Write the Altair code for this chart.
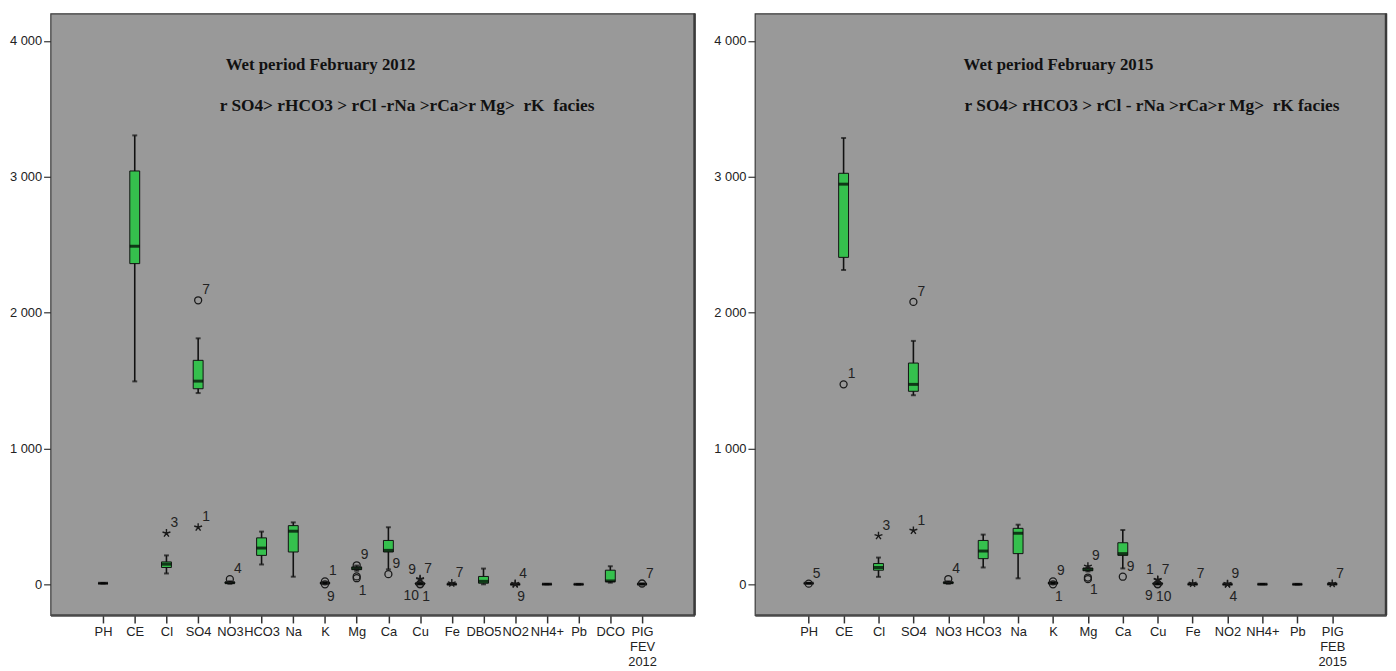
import json
import altair as alt
import pandas as pd

# ---------------- 2012 (left panel) ----------------
cats_2012 = ["PH", "CE", "Cl", "SO4", "NO3", "HCO3", "Na", "K", "Mg", "Ca",
             "Cu", "Fe", "DBO5", "NO2", "NH4+", "Pb", "DCO", "PIG|FEV|2012"]
lo_2012 = [7.0, 1494, 80, 1408, 4, 146, 56, 4, 100, 110, 0, 0, 0, 0, 0, 0, 12, 0]
q1_2012 = [7.3, 2361, 124, 1440, 8, 213, 238, 7, 108, 238, 2, 0.5, 8, 0.1, 0.5, 0.02, 19, 1]
med_2012 = [7.6, 2489, 148, 1496, 12, 267, 391, 9, 118, 250, 4, 1, 22, 0.3, 1, 0.05, 25, 2]
q3_2012 = [7.9, 3043, 165, 1649, 16, 342, 432, 12, 128, 323, 8, 2, 58, 0.6, 1.5, 0.08, 104, 3]
hi_2012 = [8.2, 3305, 213, 1811, 22, 388, 456, 15, 138, 420, 12, 3, 116, 1, 2, 0.1, 133, 5]

out_cat_2012 = ["Cl", "SO4", "SO4", "NO3", "K", "K", "Mg", "Mg", "Mg", "Ca",
                "Cu", "Cu", "Cu", "Cu", "Fe", "NO2", "NO2", "PIG|FEV|2012"]
out_val_2012 = [376, 2091, 420, 38, 22, 0, 140, 58, 45, 75,
                40, 35, 0, 3, 8, 5, 0, 6]
out_shape_2012 = ["star", "circle", "star", "circle", "circle", "circle", "circle", "circle", "circle", "circle",
                  "star", "star", "circle", "circle", "star", "star", "star", "circle"]
out_label_2012 = ["3", "7", "1", "4", "1", "9", "9", "", "1", "9",
                  "7", "9", "1", "10", "7", "4", "9", "7"]
out_pos_2012 = ["ne", "ne", "ne", "ne", "ne", "se", "ne", "ne", "se", "ne",
                "ne", "nw", "se", "sw", "ne", "ne", "se", "ne"]

# ---------------- 2015 (right panel) ----------------
cats_2015 = ["PH", "CE", "Cl", "SO4", "NO3", "HCO3", "Na", "K", "Mg", "Ca",
             "Cu", "Fe", "NO2", "NH4+", "Pb", "PIG|FEB|2015"]
lo_2015 = [7.0, 2314, 55, 1392, 4, 124, 44, 4, 95, 117, 0, 0, 0, 0, 0, 0]
q1_2015 = [7.3, 2407, 104, 1421, 8, 189, 226, 7, 100, 213, 2, 0.5, 0.1, 0.5, 0.02, 1]
med_2015 = [7.6, 2946, 124, 1472, 12, 245, 376, 9, 110, 226, 4, 1, 0.3, 1, 0.05, 2]
q3_2015 = [7.9, 3026, 153, 1629, 16, 323, 412, 12, 120, 306, 8, 2, 0.6, 1.5, 0.08, 3]
hi_2015 = [8.2, 3286, 197, 1792, 22, 366, 439, 15, 125, 400, 12, 3, 1, 2, 0.1, 5]

out_cat_2015 = ["PH", "CE", "Cl", "SO4", "SO4", "NO3", "K", "K", "Mg", "Mg", "Mg", "Ca",
                "Cu", "Cu", "Cu", "Cu", "Fe", "NO2", "NO2", "PIG|FEB|2015"]
out_val_2015 = [5, 1472, 357, 2079, 396, 39, 22, 0, 132, 50, 38, 56,
                31, 34, 0, 3, 6, 4, 0, 5]
out_shape_2015 = ["circle", "circle", "star", "circle", "star", "circle", "circle", "circle", "star", "circle", "circle", "circle",
                  "star", "star", "circle", "circle", "star", "star", "star", "star"]
out_label_2015 = ["5", "1", "3", "7", "1", "4", "9", "1", "9", "1", "", "9",
                  "1", "7", "9", "10", "7", "9", "4", "7"]
out_pos_2015 = ["ne", "ne", "ne", "ne", "ne", "ne", "ne", "se", "ne", "se", "ne", "ne",
                "nw", "ne", "sw", "se", "ne", "ne", "se", "ne"]

NB = "\u00a0"
title_2012 = ["Wet period February 2012",
              "r SO4> rHCO3 > rCl -rNa >rCa>r Mg>" + NB + " rK" + NB + " facies"]
title_2015 = ["Wet period February 2015",
              "r SO4> rHCO3 > rCl - rNa >rCa>r Mg>" + NB + " rK facies"]

# ---------------- styling ----------------
FONT = "Liberation Sans Narrow, Liberation Sans, Arial, sans-serif"
TFONT = "Liberation Serif, Times New Roman, serif"
GREEN = "#35c04d"
Y_DOMAIN = [-226, 4202]
PLOT_H = 608
STAR = "M0,-1L0,0M0.951,-0.309L0,0M0.588,0.809L0,0M-0.588,0.809L0,0M-0.951,-0.309L0,0"
LABEL_OFFSETS = {"ne": (8, -10), "se": (6, 13), "nw": (-8, -10), "sw": (-9, 12)}

yaxis = alt.Axis(values=[0, 1000, 2000, 3000, 4000],
                 labelExpr="replace(format(datum.value, ','), ',', ' ')",
                 tickSize=7, tickColor="#333", tickWidth=1.2,
                 labelFont=FONT, labelFontSize=13, labelColor="#222", labelPadding=2,
                 domain=False, grid=False, minExtent=40, maxExtent=40, title=None)


def yenc(field):
    return alt.Y(field, type="quantitative",
                 scale=alt.Scale(domain=Y_DOMAIN, nice=False, zero=False),
                 axis=yaxis, title=None)


def make_panel(cats, lo, q1, med, q3, hi, ocat, oval, oshape, olab, opos,
               titles, width, pad, tx1, tx2):
    n = len(cats)
    xaxis = alt.Axis(values=list(range(n)),
                     labelExpr="split(" + json.dumps(cats) + "[datum.value], '|')",
                     labelAngle=0, tickSize=8, tickColor="#333", tickWidth=1.5,
                     labelFont=FONT, labelFontSize=13, labelColor="#222",
                     labelPadding=3, labelLineHeight=15, labelOverlap=False,
                     labelFlush=False, labelBaseline="top",
                     domainColor="#4a4a4a", domainWidth=2.5, grid=False, title=None)

    def xenc():
        return alt.X("idx:Q", scale=alt.Scale(domain=[-pad, n - 1 + pad], nice=False, zero=False),
                     axis=xaxis, title=None)

    stats = pd.DataFrame({"cat": cats, "idx": list(range(n)), "lo": lo, "q1": q1,
                          "med": med, "q3": q3, "hi": hi})
    outs = pd.DataFrame({"cat": ocat, "val": oval, "shape": oshape, "lab": olab, "pos": opos})
    outs["idx"] = [cats.index(c) for c in ocat]

    base = alt.Chart(stats)
    whisker = base.mark_rule(color="#111", strokeWidth=1.6).encode(
        x=xenc(), y=yenc("lo"), y2="hi")
    cap_lo = base.mark_tick(color="#111", size=5, thickness=2, orient="horizontal").encode(
        x=xenc(), y=yenc("lo"))
    cap_hi = base.mark_tick(color="#111", size=5, thickness=2, orient="horizontal").encode(
        x=xenc(), y=yenc("hi"))
    box = base.mark_bar(size=10, fill=GREEN, stroke="#111", strokeWidth=1, orient="vertical").encode(
        x=xenc(), y=yenc("q1"), y2="q3")
    median = base.mark_tick(color="#000", size=10, thickness=3, orient="horizontal").encode(
        x=xenc(), y=yenc("med"))

    obase = alt.Chart(outs)
    circles = obase.transform_filter(alt.datum.shape == "circle").mark_point(
        shape="circle", filled=False, size=50, stroke="#1a1a1a", strokeWidth=1.3, opacity=1
    ).encode(x=xenc(), y=yenc("val"))
    stars = obase.transform_filter(alt.datum.shape == "star").mark_point(
        shape=STAR, filled=False, size=70, stroke="#1a1a1a", strokeWidth=1.4, opacity=1
    ).encode(x=xenc(), y=yenc("val"))

    layers = [whisker, cap_lo, cap_hi, box, median, circles, stars]
    for pos, (dx, dy) in LABEL_OFFSETS.items():
        layers.append(
            obase.transform_filter(alt.datum.pos == pos).mark_text(
                font=FONT, fontSize=14, color="#222", dx=dx, dy=dy,
                align="center", baseline="middle"
            ).encode(x=xenc(), y=yenc("val"), text="lab:N"))

    t1 = alt.Chart(pd.DataFrame({"t": [titles[0]]})).mark_text(
        font=TFONT, fontSize=17, fontWeight="bold", color="#111",
        align="left", baseline="middle"
    ).encode(x=alt.value(tx1[0]), y=alt.value(tx1[1]), text="t:N")
    t2 = alt.Chart(pd.DataFrame({"t": [titles[1]]})).mark_text(
        font=TFONT, fontSize=17.5, fontWeight="bold", color="#111",
        align="left", baseline="middle"
    ).encode(x=alt.value(tx2[0]), y=alt.value(tx2[1]), text="t:N")

    # darker right edge of the plot frame (SPSS-style shadow)
    frame_right = alt.Chart(pd.DataFrame({"e": [0]})).mark_rule(
        color="#3a3a3a", strokeWidth=2.5
    ).encode(x=alt.value(width), y=alt.value(0), y2=alt.value(PLOT_H))

    layers += [t1, t2, frame_right]

    return alt.layer(*layers).properties(width=width, height=PLOT_H)


left = make_panel(cats_2012, lo_2012, q1_2012, med_2012, q3_2012, hi_2012,
                  out_cat_2012, out_val_2012, out_shape_2012, out_label_2012, out_pos_2012,
                  title_2012, 651, 1.5, (177, 52), (171, 93))
right = make_panel(cats_2015, lo_2015, q1_2015, med_2015, q3_2015, hi_2015,
                   out_cat_2015, out_val_2015, out_shape_2015, out_label_2015, out_pos_2015,
                   title_2015, 638, 1.4, (211, 52), (212, 93))

chart = alt.hconcat(left, right, spacing=16).properties(
    padding={"left": 0, "top": 0, "right": 0, "bottom": 0}
).configure_view(fill="#999999", stroke="#3a3a3a", strokeWidth=1.2)

chart.save("out.html", embed_options={"renderer": "svg", "actions": False})
